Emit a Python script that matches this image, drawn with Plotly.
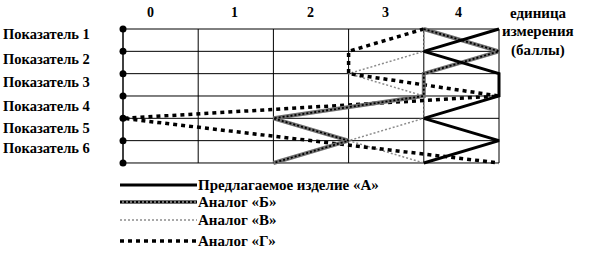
import plotly.graph_objects as go

# ---- data ----
indicators = ["Показатель 1", "Показатель 2", "Показатель 3",
              "Показатель 4", "Показатель 5", "Показатель 6"]
levels = [0, 1, 2, 3, 4, 5, 6]          # horizontal grid lines (rows)
score_ticks = ["0", "1", "2", "3", "4"]
scale_max = 5
product_A = [5, 4, 5, 5, 4, 5, 4]
analog_B = [4, 5, 4, 4, 2, 3, 2]
analog_V = [4, 4, 3, 4, 4, 3, 4]
analog_G = [4, 3, 3, 5, 0, 2.5, 5]
series_names = ["Предлагаемое изделие «А»", "Аналог «Б»", "Аналог «В»", "Аналог «Г»"]
unit_label = ["единица", "измерения", "(баллы)"]

W, H = 592, 256
FONT = "'Liberation Serif', 'Times New Roman', serif"

# pixel mapping of the main axes
x0px, dxpx = 123, 75.2
y0px, dypx = 29, 22.33
xr = [-x0px / dxpx, (W - x0px) / dxpx]
yr = [(H - y0px) / dypx, -y0px / dypx]

fig = go.Figure()

def add_series(xs, ys, kind, xa="x", ya="y"):
    if kind == "A":
        fig.add_trace(go.Scatter(x=xs, y=ys, mode="lines", xaxis=xa, yaxis=ya,
                                 line=dict(color="black", width=3), hoverinfo="skip"))
    elif kind == "B":
        fig.add_trace(go.Scatter(x=xs, y=ys, mode="lines", xaxis=xa, yaxis=ya,
                                 line=dict(color="#707070", width=4), hoverinfo="skip"))
        fig.add_trace(go.Scatter(x=xs, y=ys, mode="lines", xaxis=xa, yaxis=ya,
                                 line=dict(color="black", width=1.8, dash="2px,2px"), hoverinfo="skip"))
    elif kind == "V":
        fig.add_trace(go.Scatter(x=xs, y=ys, mode="lines", xaxis=xa, yaxis=ya,
                                 line=dict(color="#8c8c8c", width=1.5, dash="2px,2px"), hoverinfo="skip"))
    elif kind == "G":
        fig.add_trace(go.Scatter(x=xs, y=ys, mode="lines", xaxis=xa, yaxis=ya,
                                 line=dict(color="black", width=3.5, dash="4px,4px"), hoverinfo="skip"))

shapes = []
for lv in levels:
    shapes.append(dict(type="line", xref="x", yref="y", x0=0, x1=scale_max, y0=lv, y1=lv,
                       line=dict(color="black", width=1), layer="below"))
for v in range(0, scale_max + 1):
    shapes.append(dict(type="line", xref="x", yref="y", x0=v, x1=v, y0=levels[0], y1=levels[-1],
                       line=dict(color="black", width=1.5 if v == 0 else 1), layer="below"))

add_series(analog_V, levels, "V")
add_series(analog_G, levels, "G")
add_series(analog_B, levels, "B")
add_series(product_A, levels, "A")

fig.add_trace(go.Scatter(x=[0] * len(levels), y=levels, mode="markers",
                         marker=dict(color="black", size=7, symbol="circle"), hoverinfo="skip"))

leg_y = [185, 202, 220, 241]
for name, kind, ly in zip(series_names, ["A", "B", "V", "G"], leg_y):
    add_series([120, 197], [ly, ly], kind, xa="x2", ya="y2")

annotations = []
def bold(sz):
    return dict(family=FONT, size=sz, color="black")
row_label_px = [34, 59, 82, 106, 128, 148]
for name, py in zip(indicators, row_label_px):
    annotations.append(dict(xref="x2", yref="y2", x=1, y=py, text="<b>%s</b>" % name,
                            showarrow=False, xanchor="left", yanchor="middle", font=bold(14.5)))
col_label_px = [150, 234, 310, 385, 458]
for t, px in zip(score_ticks, col_label_px):
    annotations.append(dict(xref="x2", yref="y2", x=px, y=12, text="<b>%s</b>" % t,
                            showarrow=False, xanchor="center", yanchor="middle", font=bold(14)))
for t, py in zip(unit_label, [13, 31, 50]):
    annotations.append(dict(xref="x2", yref="y2", x=538, y=py, text="<b>%s</b>" % t,
                            showarrow=False, xanchor="center", yanchor="middle", font=bold(15)))
for name, ly in zip(series_names, leg_y):
    annotations.append(dict(xref="x2", yref="y2", x=196, y=ly, text="<b>%s</b>" % name,
                            showarrow=False, xanchor="left", yanchor="middle", font=bold(15)))

ax_off = dict(visible=False, showgrid=False, zeroline=False, fixedrange=True)
fig.update_layout(
    width=W, height=H, margin=dict(l=0, r=0, t=0, b=0),
    paper_bgcolor="white", plot_bgcolor="white", showlegend=False,
    font=dict(family=FONT),
    xaxis=dict(range=xr, domain=[0, 1], **ax_off),
    yaxis=dict(range=yr, domain=[0, 1], **ax_off),
    xaxis2=dict(range=[0, W], domain=[0, 1], overlaying="x", anchor="y2", **ax_off),
    yaxis2=dict(range=[H, 0], domain=[0, 1], overlaying="y", anchor="x2", **ax_off),
    shapes=shapes, annotations=annotations,
)
fig.write_html("out.html")
